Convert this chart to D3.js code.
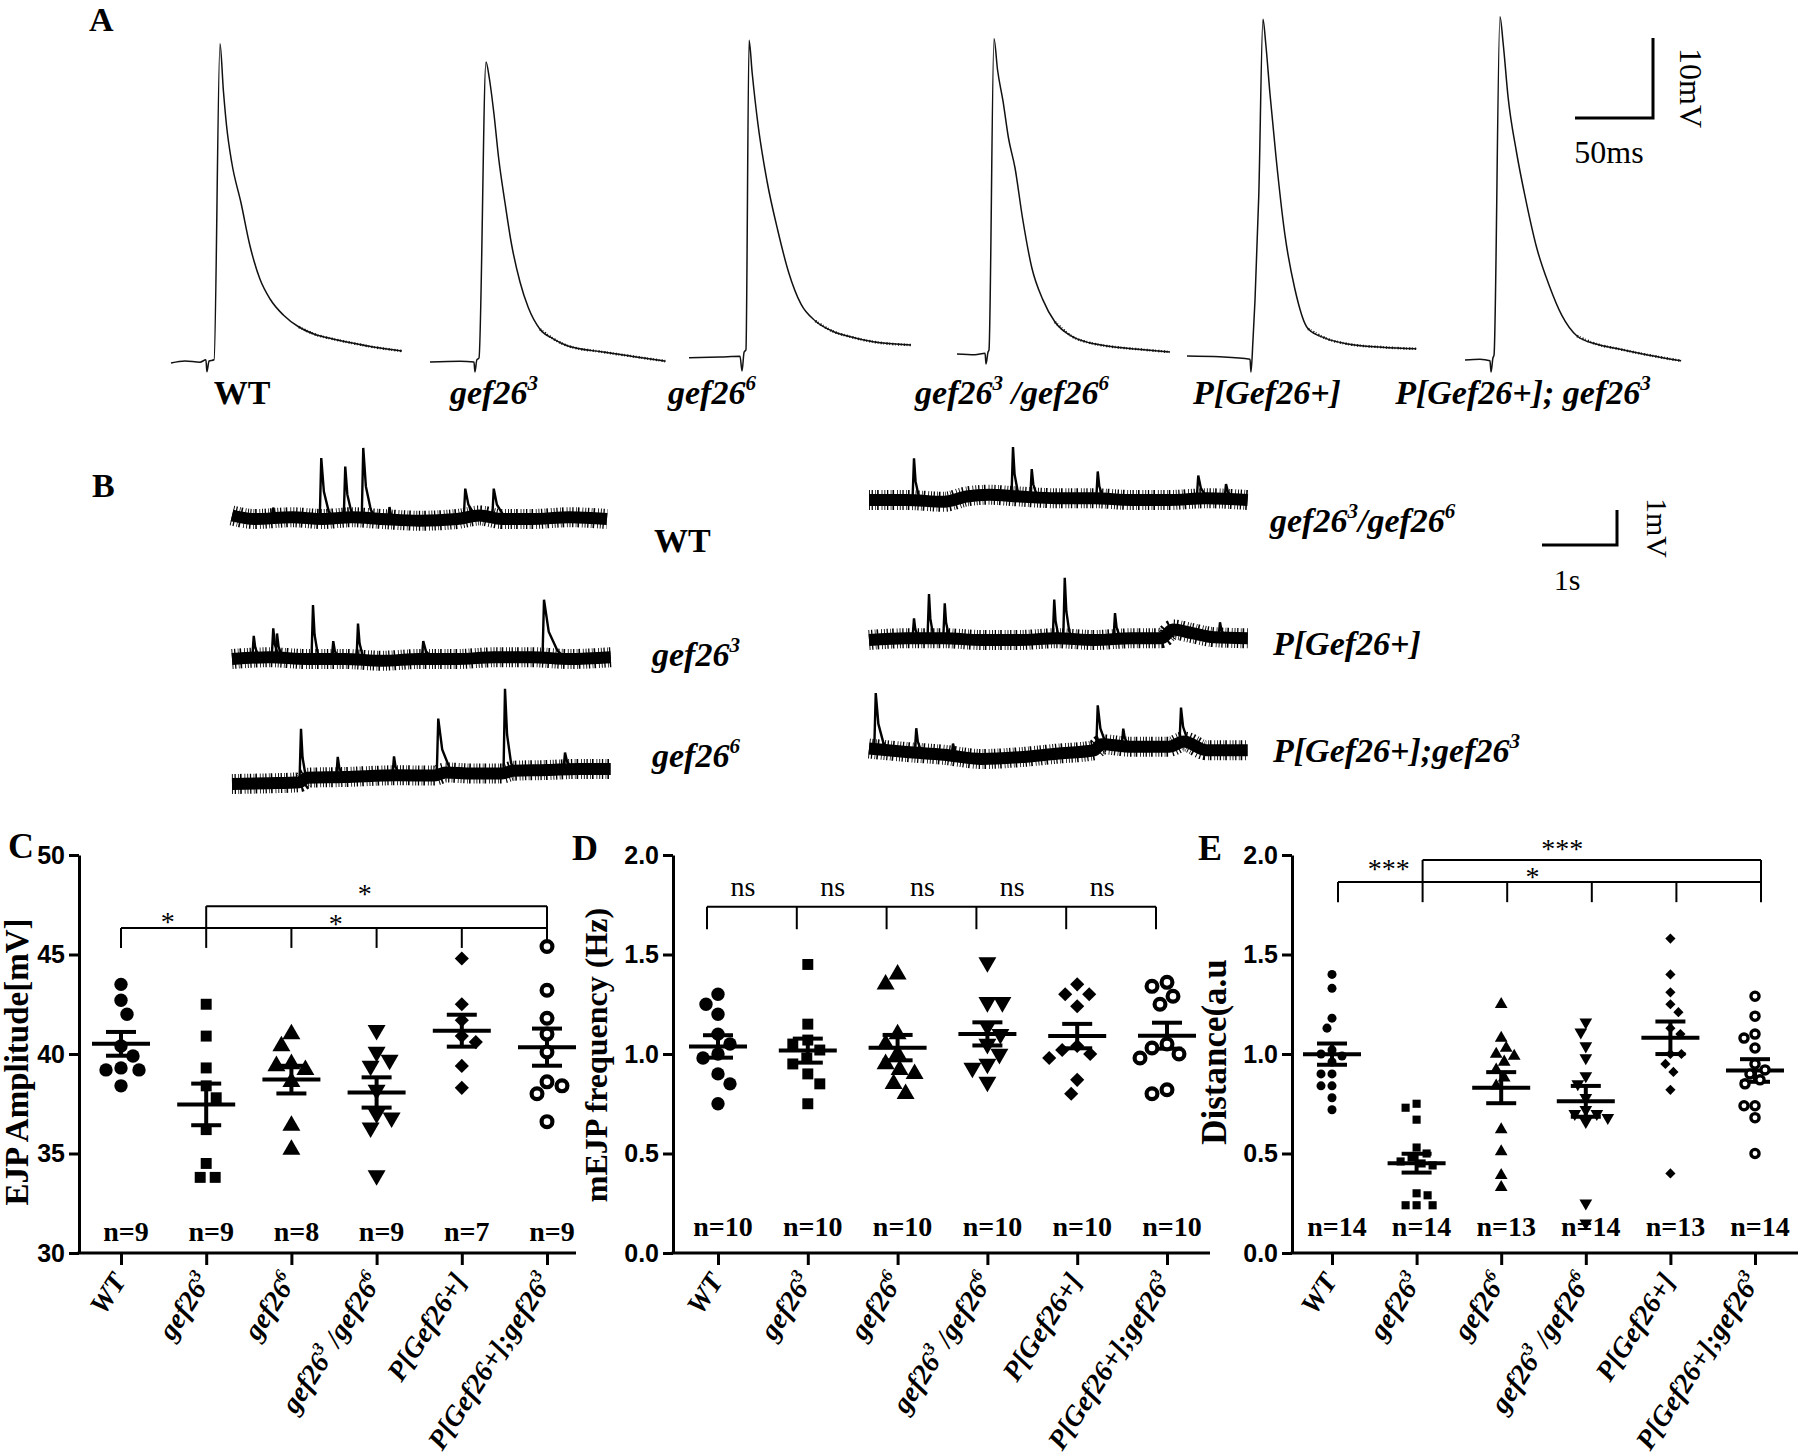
<!DOCTYPE html>
<html><head><meta charset="utf-8">
<script src="https://cdn.jsdelivr.net/npm/d3@7"></script>
<style>body{margin:0;background:#fff}svg{display:block}</style>
</head><body><svg id="fig" width="1800" height="1456"></svg>
<script>
// ---------------- DATA ----------------
const genotypes = ["WT","gef26^3","gef26^6","gef26^3 /gef26^6","P[Gef26+]","P[Gef26+];gef26^3"];
const labelsA = ["WT","gef26^3","gef26^6","gef26^3 /gef26^6","P[Gef26+]","P[Gef26+]; gef26^3"];
const labelsB = ["WT","gef26^3","gef26^6","gef26^3/gef26^6","P[Gef26+]","P[Gef26+];gef26^3"];

// Panel A: evoked EJP traces, [time (ms), voltage (mV) above baseline]
const ejpTraceWT   = [[0,0],[9,0.25],[18.6,0.1],[22.4,0.4],[23,-1.1],[24.4,0.25],[27.6,0.4],[31.4,39.9],[33.6,34],[35.7,29.5],[39,25],[44.9,20],[50.5,14.75],[57,10.5],[63.5,8],[72,6],[82,4.5],[92,3.6],[103.8,3],[116,2.5],[129.5,2],[148,1.5]];
const ejpTraceG3   = [[0,0],[19.2,0.1],[28.2,0],[28.8,-1.25],[30,0.25],[31.4,0.5],[35.9,37.5],[38,35.5],[41,31],[44,25.5],[48,20],[52,15],[57.7,10],[63,6.8],[70.5,4.1],[79,2.9],[88.5,2],[110.9,1.25],[130,0.7],[151,0.1]];
const ejpTraceG6   = [[0,-0.1],[19.9,0],[32.7,0.1],[34,-1.75],[35.3,0.6],[36.5,0.9],[38.5,39.6],[40.5,35.5],[44.2,29.1],[50,22],[57,15.75],[64,10.5],[71.8,6.6],[81,4.5],[91.7,3.25],[104,2.5],[118,1.9],[142.3,1.5]];
const ejpTraceHet  = [[0,0],[11.5,-0.1],[18,0.1],[18.6,-1.25],[19.9,0.25],[20.5,0.5],[23.7,39.4],[26,35.5],[29.5,31.6],[33,27],[37.2,23.25],[42,17],[48,10.75],[55,6.8],[62.8,4],[73.7,2.2],[85,1.4],[96,1],[116,0.6],[136.5,0.25]];
const ejpTraceP    = [[0,0],[21,-0.1],[40.4,-0.4],[41,-2],[42.3,2],[43.6,7],[46,20],[48.7,42.1],[50.5,39],[53.2,32.75],[57,25],[62.8,15.1],[69,8.5],[77.6,3.4],[89,2.2],[103,1.5],[125,1.1],[147,0.9]];
const ejpTracePG   = [[0,0],[9.6,0.1],[16,-0.1],[16.7,-1.5],[17.9,0.25],[18.6,0.6],[22.4,42.9],[24.5,39.5],[27.6,32.9],[33,26],[39.1,19.9],[46,14],[53.8,9.4],[62,5.6],[71.8,3],[84,2],[98,1.4],[118,0.6],[138.5,-0.1]];
const ejpTraces = [ejpTraceWT, ejpTraceG3, ejpTraceG6, ejpTraceHet, ejpTraceP, ejpTracePG];

// Panel B: mEJP recordings, baseline [s, mV] and spikes [s, amplitude mV, decay s]
const mejpBaseWT  = [[0,0.1],[0.3,0],[0.8,0.05],[1.2,0],[1.6,0.05],[2.0,0],[2.5,-0.05],[3.0,0],[3.3,0.1],[3.6,0],[4.0,0],[4.5,0.05],[5.0,0]];
const mejpBaseG3  = [[0,0],[0.5,0.05],[1,0],[1.5,0],[2,-0.05],[2.5,0],[3,0],[3.5,0.05],[4,0.05],[4.5,0],[5.05,0.05]];
const mejpBaseG6  = [[0,0],[0.5,0.02],[0.9,0.05],[1.0,0.18],[1.5,0.2],[2.2,0.25],[2.7,0.24],[2.85,0.33],[3.2,0.3],[3.6,0.3],[3.75,0.38],[4.2,0.4],[4.6,0.43],[5.05,0.43]];
const mejpBaseHet = [[0,0],[0.5,0],[1.0,-0.05],[1.3,0.1],[1.6,0.15],[2.0,0.1],[2.5,0.05],[3.0,0.05],[3.5,0],[4.0,0],[4.5,0.05],[5.05,0]];
const mejpBaseP   = [[0,0],[0.5,0.05],[1,0.05],[1.5,0],[2,0],[2.5,0.05],[3,0],[3.5,0.05],[3.9,0.05],[4.05,0.3],[4.3,0.2],[4.6,0.08],[5.05,0.05]];
const mejpBasePG  = [[0,0.1],[0.5,0],[1,-0.08],[1.5,-0.2],[2,-0.15],[2.5,-0.05],[3.0,0.05],[3.1,0.22],[3.5,0.15],[4.0,0.15],[4.2,0.3],[4.5,0.05],[5.05,0.05]];
const mejpSpikeWT  = [[0.55,0.3,0.05],[1.19,1.74,0.1],[1.51,1.46,0.08],[1.75,2.0,0.1],[2.1,0.35,0.05],[3.11,0.83,0.12],[3.49,0.83,0.12]];
const mejpSpikeG3  = [[0.29,0.63,0.06],[0.55,0.83,0.06],[0.6,0.69,0.06],[1.08,1.54,0.06],[1.35,0.51,0.06],[1.68,1.03,0.06],[2.55,0.51,0.1],[4.16,1.66,0.18]];
const mejpSpikeG6  = [[0.92,1.5,0.06],[1.41,0.58,0.06],[2.16,0.54,0.06],[2.75,1.6,0.15],[3.64,2.4,0.08],[4.44,0.48,0.08]];
const mejpSpikeHet = [[0.6,1.2,0.06],[1.92,1.4,0.06],[2.17,0.8,0.06],[3.05,0.77,0.06],[4.39,0.66,0.1],[4.76,0.43,0.08]];
const mejpSpikeP   = [[0.6,0.57,0.05],[0.8,1.26,0.05],[1.01,1.0,0.05],[2.47,1.11,0.05],[2.61,1.74,0.06],[3.28,0.74,0.06],[4.68,0.43,0.06]];
const mejpSpikePG  = [[0.09,1.6,0.1],[0.63,0.7,0.06],[1.12,0.35,0.06],[3.05,1.2,0.1],[3.39,0.5,0.06],[4.16,1.0,0.08]];
const mejpBases  = [mejpBaseWT, mejpBaseG3, mejpBaseG6, mejpBaseHet, mejpBaseP, mejpBasePG];
const mejpSpikes = [mejpSpikeWT, mejpSpikeG3, mejpSpikeG6, mejpSpikeHet, mejpSpikeP, mejpSpikePG];

// Panel C: EJP amplitude (mV)
const ejpAmplitude = [
  [43.5, 42.7, 42.0, 40.4, 39.9, 39.3, 39.2, 39.2, 38.4],
  [42.5, 40.9, 39.3, 38.4, 37.8, 36.2, 34.5, 33.8, 33.8],
  [41.0, 40.4, 39.5, 39.4, 39.2, 38.6, 36.4, 35.2],
  [41.2, 40.1, 39.7, 39.4, 38.2, 37.0, 36.8, 36.3, 33.9],
  [44.8, 42.5, 41.7, 40.9, 40.6, 39.4, 38.3],
  [45.4, 43.2, 41.8, 41.0, 40.1, 38.6, 38.4, 38.0, 36.6]
];
// Panel D: mEJP frequency (Hz)
const mejpFrequency = [
  [1.30, 1.25, 1.20, 1.10, 1.05, 1.00, 0.98, 0.90, 0.85, 0.75],
  [1.45, 1.15, 1.07, 1.05, 1.02, 0.98, 0.95, 0.90, 0.85, 0.75],
  [1.40, 1.35, 1.10, 1.05, 1.00, 0.95, 0.92, 0.90, 0.85, 0.80],
  [1.46, 1.26, 1.26, 1.14, 1.10, 1.05, 1.00, 0.95, 0.93, 0.86],
  [1.35, 1.30, 1.30, 1.24, 1.04, 1.02, 1.00, 0.98, 0.87, 0.80],
  [1.36, 1.34, 1.29, 1.25, 1.05, 1.03, 1.00, 0.98, 0.82, 0.80]
];
// Panel E: Distance (a.u)
const distanceAU = [
  [1.40, 1.33, 1.18, 1.13, 1.02, 1.00, 0.99, 0.96, 0.90, 0.90, 0.84, 0.84, 0.78, 0.72],
  [0.75, 0.73, 0.67, 0.53, 0.50, 0.48, 0.46, 0.45, 0.44, 0.30, 0.29, 0.24, 0.24, 0.24],
  [1.25, 1.08, 1.03, 1.00, 0.99, 0.96, 0.92, 0.88, 0.84, 0.62, 0.51, 0.39, 0.33],
  [1.16, 1.11, 1.04, 0.98, 0.89, 0.85, 0.78, 0.72, 0.70, 0.70, 0.68, 0.66, 0.25, 0.15],
  [1.58, 1.40, 1.31, 1.25, 1.21, 1.13, 1.10, 1.00, 1.00, 0.95, 0.91, 0.82, 0.40],
  [1.29, 1.19, 1.10, 1.08, 1.03, 0.95, 0.92, 0.90, 0.87, 0.85, 0.74, 0.74, 0.68, 0.50]
];
const ticksC = [30, 35, 40, 45, 50];
const ticksDE = [0.0, 0.5, 1.0, 1.5, 2.0];

// ---------------- DRAWING ----------------
const SERIF = "'Liberation Serif','Times New Roman',Times,serif";
const SANS = "'Liberation Sans',Arial,Helvetica,sans-serif";
const svg = d3.select("#fig");

function rich(sel, str, fs) {
  const parts = str.split(/\^(\d)/);
  let shifted = false;
  parts.forEach((p, i) => {
    if (p === "") return;
    const ts = sel.append("tspan").text(p);
    if (i % 2 === 1) { ts.attr("font-size", fs * 0.62).attr("dy", -fs * 0.42); shifted = true; }
    else if (shifted) { ts.attr("dy", fs * 0.42); shifted = false; }
  });
}
function txt(x, y, s, fs, opts = {}) {
  const t = svg.append("text").attr("x", x).attr("y", y)
    .attr("font-family", opts.family || SERIF).attr("font-size", fs)
    .attr("font-weight", opts.weight || "bold").attr("font-style", opts.style || "normal")
    .attr("text-anchor", opts.anchor || "start").attr("fill", "#000");
  if (opts.transform) t.attr("transform", opts.transform);
  rich(t, s, fs);
  return t;
}

// ---- Panel A ----
txt(89, 31, "A", 34);
const aX = d3.scaleLinear().domain([0, 50]).range([0, 78]);
const aY = d3.scaleLinear().domain([0, 10]).range([0, -80]);
const aLine = d3.line().x(d => aX(d[0])).y(d => aY(d[1])).curve(d3.curveMonotoneX);
const aStart = [171, 430, 689, 957, 1187, 1465];
const aBase = [363, 362, 357, 354, 356, 360];
const aLabelX = [242, 494, 712, 1012, 1267, 1523];
ejpTraces.forEach((tr, i) => {
  svg.append("path").attr("transform", `translate(${aStart[i]},${aBase[i]})`)
    .attr("d", aLine(tr)).attr("fill", "none").attr("stroke", "#111").attr("stroke-width", 1.5);
  svg.append("path").attr("transform", `translate(${aStart[i]},${aBase[i]})`)
    .attr("d", aLine(tr.filter(d => d[1] < 5 && d[0] > 50))).attr("fill", "none").attr("stroke", "#111")
    .attr("stroke-width", 2.6).attr("stroke-dasharray", "1.2 1.6 0.8 2.2");
  txt(aLabelX[i], 404, labelsA[i], 34, { anchor: "middle", style: i === 0 ? "normal" : "italic" });
});
const sbA = [1653, 118];
svg.append("path").attr("d", `M${sbA[0] - aX(50)},${sbA[1]}H${sbA[0]}V${sbA[1] + aY(10)}`)
  .attr("fill", "none").attr("stroke", "#000").attr("stroke-width", 3);
txt(1609, 163, "50ms", 32, { anchor: "middle", weight: "normal" });
txt(0, 0, "10mV", 32, { anchor: "middle", weight: "normal", transform: "translate(1680,88) rotate(90)" });

// ---- Panel B ----
txt(92, 497, "B", 34);
const bX = d3.scaleLinear().domain([0, 1]).range([0, 75]);
const bY = d3.scaleLinear().domain([0, 1]).range([0, -35]);
const bStart = [232, 232, 232, 869, 869, 869];
const bBase = [519, 659, 784, 500, 640, 752];
const bLabelPos = [[654, 552], [652, 666], [652, 767], [1270, 532], [1273, 655], [1273, 762]];
function baseAt(base, t) {
  for (let k = 0; k < base.length - 1; k++) {
    if (t >= base[k][0] && t <= base[k + 1][0]) {
      const f = (t - base[k][0]) / (base[k + 1][0] - base[k][0]);
      return base[k][1] + f * (base[k + 1][1] - base[k][1]);
    }
  }
  return base[base.length - 1][1];
}
const bPath = d3.line().x(d => bX(d[0])).y(d => bY(d[1])).curve(d3.curveMonotoneX);
mejpBases.forEach((base, i) => {
  const g = svg.append("g").attr("transform", `translate(${bStart[i]},${bBase[i]})`);
  g.append("path").attr("d", bPath(base))
    .attr("fill", "none").attr("stroke", "#000").attr("stroke-width", 12);
  g.append("path").attr("d", bPath(base))
    .attr("fill", "none").attr("stroke", "#000").attr("stroke-width", 20)
    .attr("stroke-dasharray", "0.9 1.7 1.3 2.4 0.7 1.1 1.6 2.9 0.8 2.0");
  mejpSpikes[i].forEach(s => {
    const t = s[0], a = s[1], w = s[2];
    const b0 = baseAt(base, t);
    const pts = [[t - 0.02, b0], [t, b0 + a], [t + w * 0.35, b0 + a * 0.45], [t + w, b0 + a * 0.12], [t + w * 1.6, b0]];
    g.append("path").attr("d", d3.line().x(d => bX(d[0])).y(d => bY(d[1]))(pts))
      .attr("fill", "none").attr("stroke", "#000").attr("stroke-width", 2.4).attr("stroke-linejoin", "miter");
  });
  txt(bLabelPos[i][0], bLabelPos[i][1], labelsB[i], 34, { style: i === 0 ? "normal" : "italic" });
});
const sbB = [1617, 545];
svg.append("path").attr("d", `M${sbB[0] - bX(1)},${sbB[1]}H${sbB[0]}V${sbB[1] + bY(1)}`)
  .attr("fill", "none").attr("stroke", "#000").attr("stroke-width", 3);
txt(1567, 590, "1s", 30, { anchor: "middle", weight: "normal" });
txt(0, 0, "1mV", 30, { anchor: "middle", weight: "normal", transform: "translate(1647,528) rotate(90)" });

// ---- Dot plot panels ----
function symbolFor(k, big) {
  const types = [d3.symbolCircle, d3.symbolSquare, d3.symbolTriangle, d3.symbolTriangle, d3.symbolSquare, d3.symbolCircle];
  const sizes = big ? [140, 120, 140, 140, 100, 0] : [64, 66, 70, 70, 52, 0];
  return d3.symbol().type(types[k]).size(sizes[k])();
}
function dodge(vals, y, r) {
  const pts = vals.map(v => ({ v, y: y(v) })).sort((a, b) => a.y - b.y);
  const placed = [];
  pts.forEach((p, idx) => {
    let found = null;
    for (let k = 0; k < 60 && found === null; k++) {
      const offs = k === 0 ? [0] : (idx % 2 ? [-k, k] : [k, -k]);
      for (const o of offs) {
        if (placed.every(q => (q.x - o) ** 2 + (q.y - p.y) ** 2 >= (2 * r) ** 2)) { found = o; break; }
      }
    }
    p.x = found; placed.push(p);
  });
  return placed;
}
function dotPanel(cfg) {
  const g = svg.append("g");
  const x = d3.scalePoint().domain(d3.range(6)).range(cfg.xr);
  const step = x.step();
  const xi = k => cfg.xr[0] + k * step;
  const y = d3.scaleLinear().domain([cfg.ticks[0], cfg.ticks[cfg.ticks.length - 1]]).range([1253, 855]);
  const y0 = y(cfg.ticks[0]);
  g.append("line").attr("x1", cfg.ax - 1.5).attr("x2", cfg.xend).attr("y1", y0).attr("y2", y0)
    .attr("stroke", "#000").attr("stroke-width", 3);
  const yg = g.append("g").attr("transform", `translate(${cfg.ax},0)`)
    .call(d3.axisLeft(y).tickValues(cfg.ticks).tickSize(10).tickSizeOuter(0).tickPadding(4).tickFormat(cfg.fmt));
  yg.select(".domain").attr("stroke-width", 3);
  yg.selectAll(".tick line").attr("stroke-width", 3);
  yg.selectAll(".tick text").attr("font-family", SANS).attr("font-weight", "bold").attr("font-size", 25).attr("fill", "#000");
  const xg = g.append("g").attr("transform", `translate(0,${y0})`)
    .call(d3.axisBottom(x).tickSize(12).tickFormat(""));
  xg.select(".domain").remove();
  xg.selectAll(".tick line").attr("stroke-width", 3);
  genotypes.forEach((lab, k) => {
    txt(0, 0, lab, 28, { anchor: "end", style: "italic", transform: `translate(${x(k) + 6},${y0 + 28}) rotate(-57)` });
  });
  txt(0, 0, cfg.ylabel, cfg.ylfs, { anchor: "middle", transform: `translate(${cfg.ylx},${cfg.yly}) rotate(-90)` });
  txt(cfg.letter[1], cfg.letter[2], cfg.letter[0], 36);
  const bg = g.append("g").attr("stroke", "#000").attr("stroke-width", 2).attr("fill", "none");
  cfg.hLines.forEach(h => bg.append("line").attr("x1", xi(h[0]) + cfg.bdx).attr("x2", xi(h[1]) + cfg.bdx)
    .attr("y1", y(h[2])).attr("y2", y(h[2])));
  cfg.vLines.forEach(v => bg.append("line").attr("x1", xi(v[0]) + cfg.bdx).attr("x2", xi(v[0]) + cfg.bdx)
    .attr("y1", y(v[1])).attr("y2", y(v[2])));
  cfg.marks.forEach(m => txt(xi(m[1]) + cfg.bdx, y(m[2]) + m[3], m[0], 28, { anchor: "middle", weight: "normal" }));
  cfg.values.forEach((vals, k) => {
    const cx = x(k);
    const mean = d3.mean(vals), sem = d3.deviation(vals) / Math.sqrt(vals.length);
    const pts = dodge(vals, y, cfg.r);
    const mg = g.append("g").attr("stroke", "#000").attr("stroke-width", 4);
    mg.append("line").attr("x1", cx - 29).attr("x2", cx + 29).attr("y1", y(mean)).attr("y2", y(mean));
    mg.append("line").attr("x1", cx - 15).attr("x2", cx + 15).attr("y1", y(mean + sem)).attr("y2", y(mean + sem));
    mg.append("line").attr("x1", cx - 15).attr("x2", cx + 15).attr("y1", y(mean - sem)).attr("y2", y(mean - sem));
    mg.append("line").attr("x1", cx).attr("x2", cx).attr("y1", y(mean + sem)).attr("y2", y(mean - sem));
    pts.forEach(p => {
      if (k === 5) {
        g.append("circle").attr("cx", cx + p.x).attr("cy", p.y).attr("r", cfg.big ? 5.4 : 4.1)
          .attr("fill", "#fff").attr("stroke", "#000").attr("stroke-width", cfg.big ? 4.2 : 3.3);
      } else {
        const rot = k === 3 ? 180 : (k === 4 ? 45 : 0);
        g.append("path").attr("d", symbolFor(k, cfg.big))
          .attr("transform", `translate(${cx + p.x},${p.y}) rotate(${rot})`).attr("fill", "#000");
      }
    });
    txt(cx + 5, cfg.nY, "n=" + vals.length, 28, { anchor: "middle" });
  });
}

dotPanel({
  letter: ["C", 8, 858], ylabel: "EJP Amplitude[mV]", ylfs: 33, ylx: 28, yly: 1062,
  ax: 79, xend: 576, xr: [121, 547], ticks: ticksC, fmt: d3.format("d"),
  values: ejpAmplitude, r: 7.5, big: true, nY: 1241, bdx: 0,
  hLines: [[0, 5, 46.33], [1, 5, 47.43]],
  vLines: [[0, 46.33, 45.33], [1, 47.43, 45.33], [2, 46.33, 45.33], [3, 46.33, 45.33], [4, 46.33, 45.33], [5, 47.43, 45.33]],
  marks: [["*", 0.55, 46.83, 13], ["*", 2.52, 46.73, 13], ["*", 2.86, 48.26, 13]]
});
dotPanel({
  letter: ["D", 572, 860], ylabel: "mEJP frequency (Hz)", ylfs: 32, ylx: 607, yly: 1055,
  ax: 673, xend: 1210, xr: [718, 1167], ticks: ticksDE, fmt: d3.format(".1f"),
  values: mejpFrequency, r: 7.5, big: true, nY: 1236, bdx: -11,
  hLines: [[0, 5, 1.74]],
  vLines: d3.range(6).map(k => [k, 1.74, 1.627]),
  marks: d3.range(5).map(k => ["ns", k + 0.5 - 0.1, 1.83, 7])
});
dotPanel({
  letter: ["E", 1198, 860], ylabel: "Distance(a.u", ylfs: 35, ylx: 1226, yly: 1052,
  ax: 1292, xend: 1798, xr: [1332, 1755], ticks: ticksDE, fmt: d3.format(".1f"),
  values: distanceAU, r: 5.5, big: false, nY: 1236, bdx: 6,
  hLines: [[0, 5, 1.864], [1, 5, 1.975]],
  vLines: [[0, 1.864, 1.763], [1, 1.975, 1.763], [2, 1.864, 1.763], [3, 1.864, 1.763], [4, 1.864, 1.763], [5, 1.975, 1.763]],
  marks: [["***", 0.6, 1.95, 13], ["***", 2.65, 2.05, 13], ["*", 2.3, 1.91, 13]]
});
</script>
</body></html>
